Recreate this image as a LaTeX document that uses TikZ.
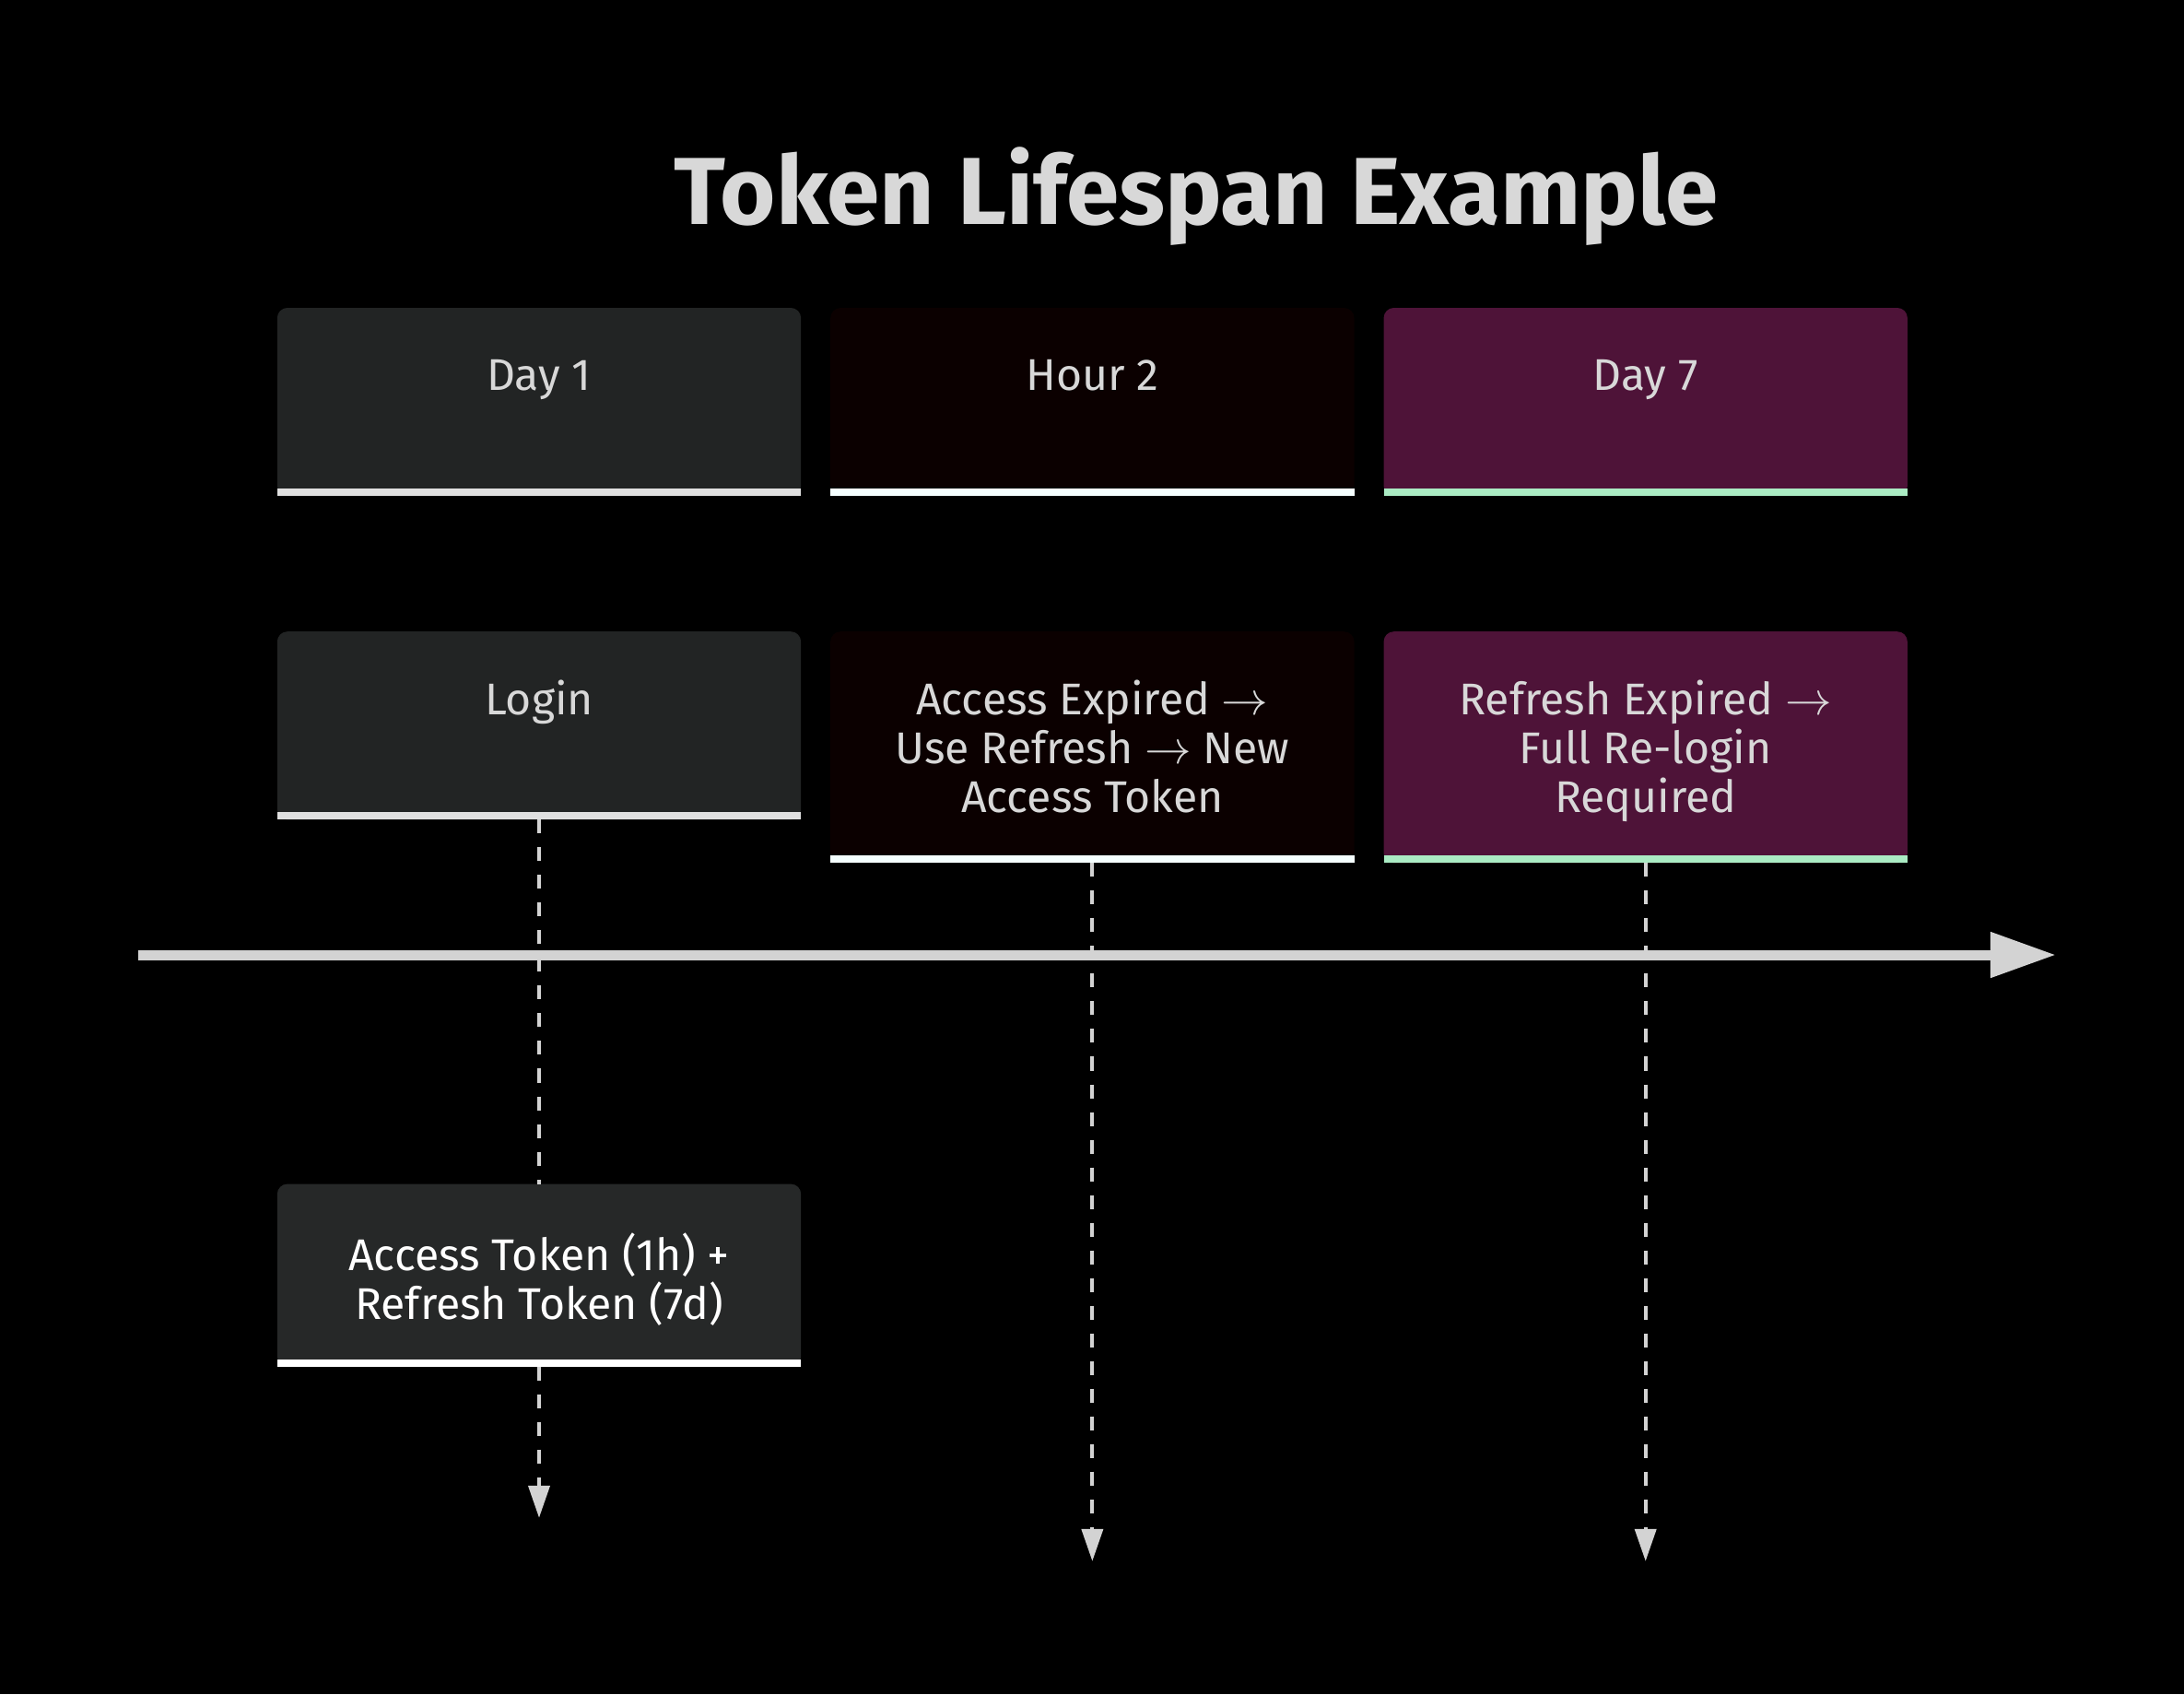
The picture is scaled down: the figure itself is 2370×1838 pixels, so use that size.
\documentclass[tikz,border=0pt]{standalone}
\usepackage{fontspec}
\setmainfont{Fira Sans}
\usetikzlibrary{positioning,arrows.meta}
\definecolor{cardA}{RGB}{34,36,36}
\definecolor{cardB}{RGB}{11,0,0}
\definecolor{cardC}{RGB}{78,19,56}
\definecolor{cardT}{RGB}{38,40,40}
\definecolor{barA}{RGB}{224,224,224}
\definecolor{barB}{RGB}{245,255,255}
\definecolor{barC}{RGB}{170,235,195}
\definecolor{txtgray}{RGB}{216,216,216}
\definecolor{linegray}{RGB}{211,211,211}
\begin{document}
\begin{tikzpicture}[x=0.01cm, y=-0.01cm,
  card/.style={rectangle, anchor=north, inner sep=0, outer sep=0, minimum width=5.68cm, rounded corners=0.11cm},
  txt/.style={align=center, inner sep=0, text=txtgray, font={\fontsize{13.7}{15.08}\selectfont\lineskiplimit=-20pt}},
  dline/.style={draw=linegray, line width=0.04cm, dash pattern=on 0.15cm off 0.15cm},
  axis/.style={draw=linegray, line width=0.11cm, -{Triangle[length=0.71cm, width=0.47cm]}}]
  \fill[black] (0,0) rectangle (2370,1838);
  \node[font=\fontsize{29.4}{34}\selectfont\bfseries, text=txtgray, anchor=base] (title) at (1298,243) {Token Lifespan Example};

  \node[card, fill=cardA, minimum height=2.04cm] (h1) at (585,334) {};
  \node[card, fill=cardB, minimum height=2.04cm, right=0.32cm of h1] (h2) {};
  \node[card, fill=cardC, minimum height=2.04cm, right=0.32cm of h2] (h3) {};
  \node[card, fill=cardA, minimum height=2.04cm, below=1.47cm of h1.south] (e1) {};
  \node[card, fill=cardB, minimum height=2.51cm, below=1.47cm of h2.south] (e2) {};
  \node[card, fill=cardC, minimum height=2.51cm, below=1.47cm of h3.south] (e3) {};
  \node[card, fill=cardT, minimum height=1.98cm, below=3.95cm of e1.south] (t1) {};
  \foreach \n/\c in {h1/barA,h2/barB,h3/barC,e1/barA,e2/barB,e3/barC,t1/white}
    \fill[\c] (\n.south west) rectangle ([yshift=0.08cm]\n.south east);

  \node[txt, below=0.52cm of h1.north] (h1t) {\strut Day 1};
  \node[txt, below=0.52cm of h2.north] (h2t) {\strut Hour 2};
  \node[txt, below=0.52cm of h3.north] (h3t) {\strut Day 7};
  \node[txt, below=0.52cm of e1.north] (e1t) {\strut Login};
  \node[txt, below=0.52cm of e2.north] (e2t) {\strut Access Expired $\rightarrow$\\Use Refresh $\rightarrow$ New\\Access Token};
  \node[txt, below=0.52cm of e3.north] (e3t) {\strut Refresh Expired $\rightarrow$\\Full Re-login\\Required};
  \node[txt, text=white, below=0.52cm of t1.north] (t1t) {\strut Access Token (1h) +\\Refresh Token (7d)};

  \coordinate[below=1.64cm of t1.south] (end1);
  \coordinate[below=7.57cm of e2.south] (end2);
  \coordinate[below=7.57cm of e3.south] (end3);
  \draw[dline] (e1) -- (t1);
  \draw[dline, -{Triangle[length=0.35cm, width=0.23cm]}] (t1) -- (end1);
  \draw[dline, -{Triangle[length=0.35cm, width=0.23cm]}] (e2) -- (end2);
  \draw[dline, -{Triangle[length=0.35cm, width=0.23cm]}] (e3) -- (end3);

  \coordinate (ax0) at (150,1036);
  \coordinate (ax1) at (2231,1036);
  \draw[axis] (ax0) -- (ax1);
\end{tikzpicture}
\end{document}
